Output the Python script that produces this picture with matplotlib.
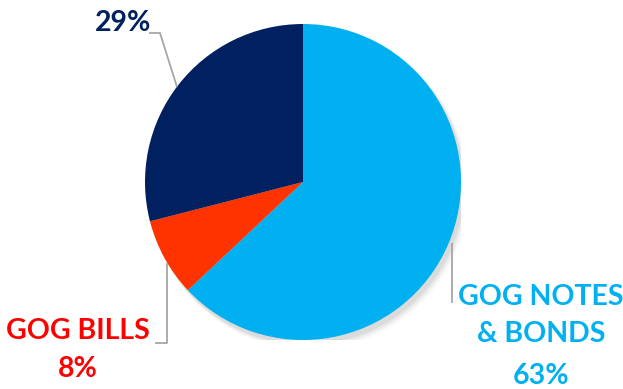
import matplotlib
matplotlib.use("Agg")
import matplotlib.pyplot as plt

labels = [["GOG NOTES", "& BONDS"], ["GOG BILLS"], []]
shares = [63, 8, 29]
colours = ["#00B0F0", "#FF3300", "#002060"]
text_colours = ["#00B0F0", "#FF0000", "#002060"]

plt.rcParams["font.family"] = ["Lato", "DejaVu Sans"]

W, H = 623, 389
fig = plt.figure(figsize=(W / 100, H / 100), dpi=100)

# pie sits in a box centred at (303, 182) px, radius 158 px
cx, cy, r = 303, 182, 158
ax = fig.add_axes([(cx - r) / W, (H - cy - r) / H, 2 * r / W, 2 * r / H])

# soft shadow
for k, a in enumerate([0.05, 0.04, 0.03, 0.02]):
    sh = plt.Circle((0.02 + k * 0.006, -0.03 - k * 0.006), 1.0 + k * 0.004,
                    color="black", alpha=a, lw=0, zorder=0)
    ax.add_patch(sh)

ax.pie(shares, colors=colours, startangle=90, counterclock=False,
       wedgeprops=dict(linewidth=0), radius=1.0)
ax.set_xlim(-1, 1)
ax.set_ylim(-1, 1)
ax.set_aspect("auto")
ax.axis("off")

# overlay in pixel space for labels and leader lines
ov = fig.add_axes([0, 0, 1, 1])
ov.set_xlim(0, W)
ov.set_ylim(H, 0)
ov.axis("off")
ov.patch.set_alpha(0)

line_kw = dict(color="#A6A6A6", lw=1.3, solid_capstyle="butt")
ov.plot([149, 160, 177], [33, 33, 87], **line_kw)
ov.plot([155, 167, 167], [343, 343, 263], **line_kw)
ov.plot([452, 452], [243, 303], **line_kw)

fs = 20.5
kw = dict(fontsize=fs, fontweight="bold", ha="center", va="center")
ov.text(123, 23, f"{shares[2]}%", color=text_colours[2], **kw)
ov.text(78, 331, labels[1][0], color=text_colours[1], **kw)
ov.text(78, 369, f"{shares[1]}%", color=text_colours[1], **kw)
ov.text(541, 297, labels[0][0], color=text_colours[0], **kw)
ov.text(541, 334, labels[0][1], color=text_colours[0], **kw)
ov.text(541, 376, f"{shares[0]}%", color=text_colours[0], **kw)

fig.savefig("out.png", dpi=100)
